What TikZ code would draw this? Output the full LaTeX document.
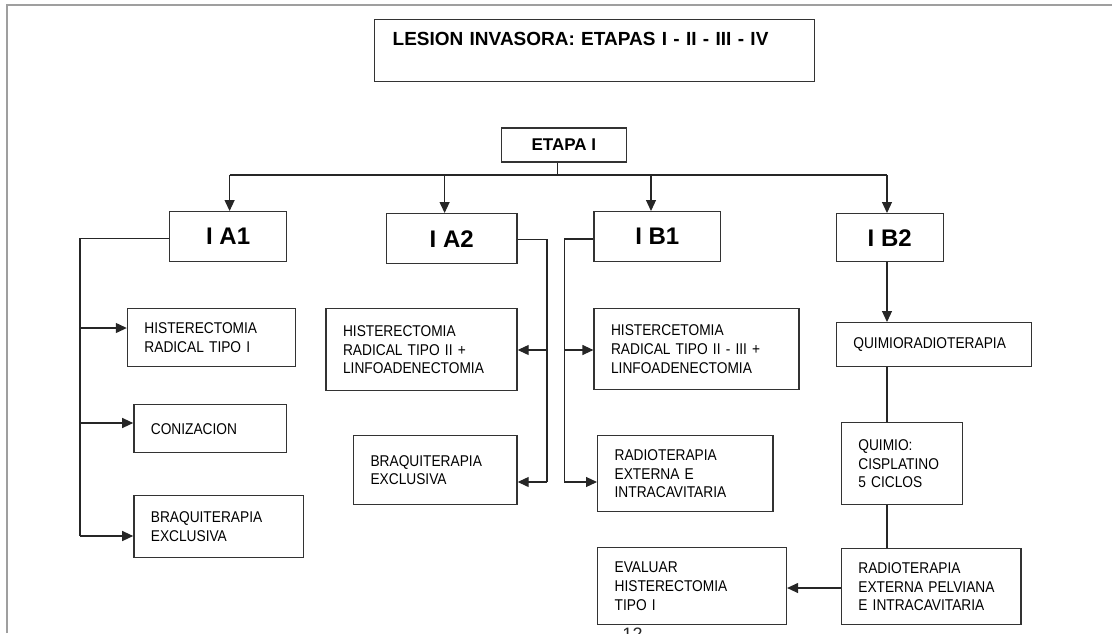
\documentclass[tikz,border=0pt]{standalone}
\usepackage{fontspec}
\setmainfont{Liberation Sans}
\newfontfamily\narrowsans[FakeStretch=0.88]{Liberation Sans}
\usetikzlibrary{arrows.meta,positioning}
\hyphenpenalty=10000
\exhyphenpenalty=10000

\begin{document}
\begin{tikzpicture}[x=1pt,y=-1pt,
    headbox/.style={rectangle,draw=black!80,line width=1.3pt,anchor=north west,
        align=left,inner xsep=18pt,inner ysep=0pt,text height=26pt,text depth=36pt,
        font=\bfseries\fontsize{19}{22}\selectfont},
    etapabox/.style={rectangle,draw=black!80,line width=1.3pt,anchor=north west,
        inner sep=0pt,font=\bfseries\fontsize{17}{19}\selectfont},
    stagebox/.style={rectangle,draw=black!80,line width=1.3pt,anchor=north west,
        inner sep=0pt,font=\bfseries\fontsize{24}{26}\selectfont},
    treatbox/.style={rectangle,draw=black!80,line width=1.3pt,anchor=north west,
        align=left,inner xsep=17pt,inner ysep=0pt,
        font=\narrowsans\fontsize{15.6}{18.7}\selectfont},
    conn/.style={draw=black!85,line width=1.2pt},
    connarrow/.style={conn,-{Triangle[length=11pt,width=10pt]}}
]
 \useasboundingbox (0,0) rectangle (1112,633);
 \draw[gray!75,line width=2pt] (7,633) -- (7,5) -- (1112,5);

 \node[headbox,text width=404pt] (lesion) at (374,19) {LESION INVASORA: ETAPAS I - II - III - IV};
 \node[etapabox,minimum width=125pt,minimum height=34pt] (etapa) at (500.7,127.3) {ETAPA I};

 \node[stagebox,minimum width=117pt,minimum height=50pt] (ia1) at (169,211) {I A1};
 \node[stagebox,minimum width=130.7pt,minimum height=50pt] (ia2) at (385.7,213) {I A2};
 \node[stagebox,minimum width=126.5pt,minimum height=50pt] (ib1) at (593.4,211) {I B1};
 \node[stagebox,minimum width=106.8pt,minimum height=48pt] (ib2) at (835.7,213) {I B2};

 \node[treatbox,text width=134.2pt,minimum height=58pt] (hrt1) at (126.8,308) {HISTERECTOMIA\\RADICAL TIPO I};
 \node[treatbox,text width=118.8pt,minimum height=48pt] (coniz) at (133.2,404) {CONIZACION};
 \node[treatbox,text width=135.8pt,minimum height=62pt] (braqa) at (133.2,495) {BRAQUITERAPIA\\EXCLUSIVA};
 \node[treatbox,text width=157pt,minimum height=82pt] (hrt2) at (325.4,308) {HISTERECTOMIA\\RADICAL TIPO II +\\LINFOADENECTOMIA};
 \node[treatbox,text width=129.5pt,minimum height=69pt] (braqb) at (352.9,435) {BRAQUITERAPIA\\EXCLUSIVA};
 \node[treatbox,text width=171pt,minimum height=81pt] (hrt3) at (593.4,308) {HISTERCETOMIA\\RADICAL TIPO II - III +\\LINFOADENECTOMIA};
 \node[treatbox,text width=141.2pt,minimum height=76pt] (rtei) at (597,435) {RADIOTERAPIA\\EXTERNA E\\INTRACAVITARIA};
 \node[treatbox,text width=161.3pt,minimum height=44pt] (qrt) at (835.7,322) {QUIMIORADIOTERAPIA};
 \node[treatbox,text width=86.8pt,minimum height=82pt] (quimio) at (840.7,422) {QUIMIO:\\CISPLATINO\\5 CICLOS};
 \node[treatbox,text width=145.5pt,minimum height=76pt] (rtep) at (840.7,548) {RADIOTERAPIA\\EXTERNA PELVIANA\\E INTRACAVITARIA};
 \node[treatbox,text width=154.8pt,minimum height=77pt] (evaluar) at (597,547) {EVALUAR\\HISTERECTOMIA\\TIPO I};

 \node[font=\fontsize{18}{18}\selectfont,text=black!85,inner sep=0pt] (pagenum) at (632.5,634.5) {12};

 \coordinate (bus) at (557.3,175);
 \coordinate (busa1) at (229.6,175);
 \coordinate (busa2) at (444.6,175);
 \coordinate (busb1) at (651,175);
 \coordinate (busb2) at (887,175);
 \draw[conn] (etapa.south -| bus) -- (bus);
 \draw[conn] (busa1) -- (busb2);
 \draw[connarrow] (busa1) -- (busa1 |- ia1.north);
 \draw[connarrow] (busa2) -- (busa2 |- ia2.north);
 \draw[connarrow] (busb1) -- (busb1 |- ib1.north);
 \draw[connarrow] (busb2) -- (busb2 |- ib2.north);

 \coordinate (ta0) at (80,238.5);
 \coordinate (ta1) at (80,328);
 \coordinate (ta2) at (80,423);
 \coordinate (ta3) at (80,536);
 \draw[conn] (ia1.west |- ta0) -- (ta0) -- (ta3);
 \draw[connarrow] (ta1) -- (ta1 -| hrt1.west);
 \draw[connarrow] (ta2) -- (ta2 -| coniz.west);
 \draw[connarrow] (ta3) -- (ta3 -| braqa.west);

 \coordinate (tb0) at (547,239.5);
 \coordinate (tb1) at (547,350);
 \coordinate (tb2) at (547,482);
 \draw[conn] (ia2.east |- tb0) -- (tb0) -- (tb2);
 \draw[connarrow] (tb1) -- (tb1 -| hrt2.east);
 \draw[connarrow] (tb2) -- (tb2 -| braqb.east);

 \coordinate (tc0) at (564.3,239);
 \coordinate (tc1) at (564.3,350);
 \coordinate (tc2) at (564.3,482);
 \draw[conn] (ib1.west |- tc0) -- (tc0) -- (tc2);
 \draw[connarrow] (tc1) -- (tc1 -| hrt3.west);
 \draw[connarrow] (tc2) -- (tc2 -| rtei.west);

 \draw[connarrow] (busb2 |- ib2.south) -- (busb2 |- qrt.north);
 \draw[conn] (busb2 |- qrt.south) -- (busb2 |- quimio.north);
 \draw[conn] (busb2 |- quimio.south) -- (busb2 |- rtep.north);
 \coordinate (tev) at (830,588);
 \draw[connarrow] (rtep.west |- tev) -- (evaluar.east |- tev);
\end{tikzpicture}
\end{document}
